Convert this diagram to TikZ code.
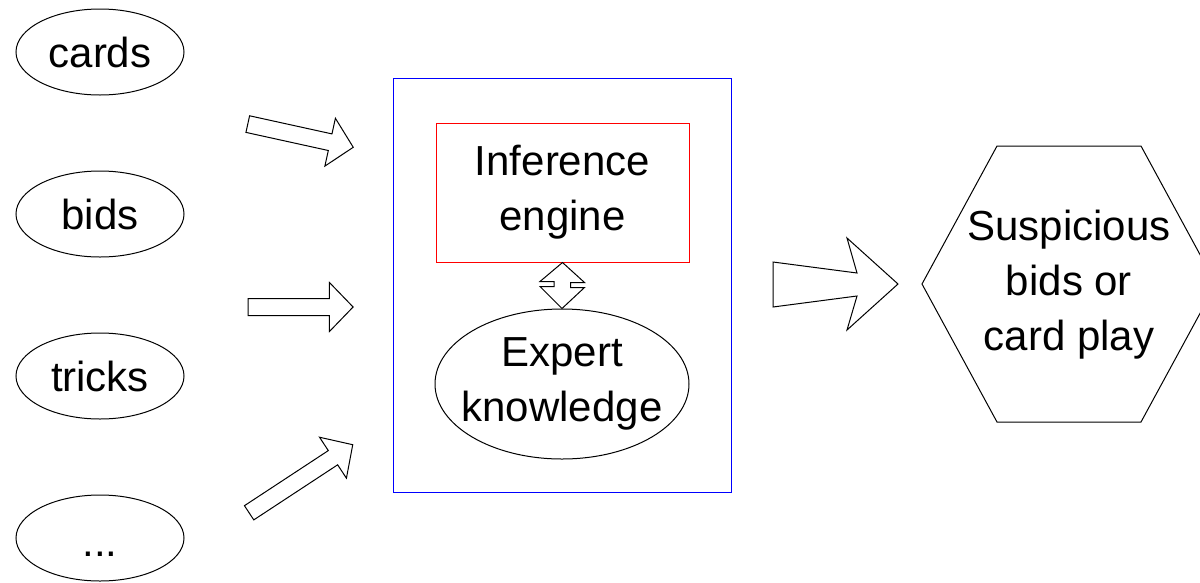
\documentclass[tikz,border=0pt]{standalone}
\usepackage{fontspec}
\setmainfont{Liberation Sans}
\usetikzlibrary{shapes.geometric,shapes.arrows}
\begin{document}
\begin{tikzpicture}[x=1pt,y=-1pt,
  every node/.style={font=\fontsize{42}{55}\selectfont, align=center},
  inp/.style={ellipse, draw, line width=1pt, inner sep=0pt, minimum width=168pt, minimum height=86pt},
  blockarrow/.style={single arrow, draw, line width=1pt, inner xsep=0pt, inner ysep=8pt,
     minimum width=0pt, single arrow head extend=16pt, single arrow tip angle=92},
  sysbox/.style={rectangle, draw=blue, line width=1pt, minimum width=338pt, minimum height=414pt, inner sep=0pt},
  infbox/.style={rectangle, draw=red, line width=1pt, minimum width=253pt, minimum height=139pt, inner sep=0pt},
  know/.style={ellipse, draw, line width=1pt, minimum width=254pt, minimum height=150pt, inner sep=0pt},
  shape line/.style={draw, line width=1pt, line join=miter}
]
\useasboundingbox (0,0) rectangle (1200,582);
\clip (0,0) rectangle (1200,582);

% inputs
\node[inp] (cards) at (100,52) {cards};
\node[inp] (bids) at (100,214) {bids};
\node[inp] (tricks) at (100,376) {tricks};
\node[inp] (more) at (100,538) {};
\node (moret) at (100,554) {...};

% block arrows into the system
\node[blockarrow, minimum height=108pt, rotate=-12.4] (a1) at (296.5,134.8) {};
\node[blockarrow, minimum height=105pt] (a2) at (296.5,307) {};
\node[blockarrow, minimum height=124pt, rotate=33.3] (a3) at (297.5,481) {};

% system
\node[sysbox] (sys) at (562,285) {};
\node[infbox] (inf) at (562.5,192.5) {Inference\\engine};
\node[know] (exp) at (562,384) {};
\node (expt) at (exp.center) {Expert\\knowledge};

% double arrow between engine and knowledge
\path[shape line] (inf.south) -- ++(22,20) -- ++(-14,0) -- ++(0,5) -- ++(14,0) -- (exp.north)
  -- ++(-22,-22) -- ++(14,0) -- ++(0,-5) -- ++(-14,0) -- cycle;

% output
\node (out) at (1069,285) {Suspicious\\bids or\\card play};
\coordinate (hl) at (922,284);
\coordinate (hr) at (1216,284);
\path[shape line] (hl) -- (997,146) -- (1141,146) -- (hr) -- (1141,422) -- (997,422) -- cycle;

% big arrow
\coordinate (btip) at (898,284);
\path[shape line] (773,262) -- (857,273) -- (847,238) -- (btip) -- (847,330) -- (857,296) -- (773,307) -- cycle;
\end{tikzpicture}
\end{document}
